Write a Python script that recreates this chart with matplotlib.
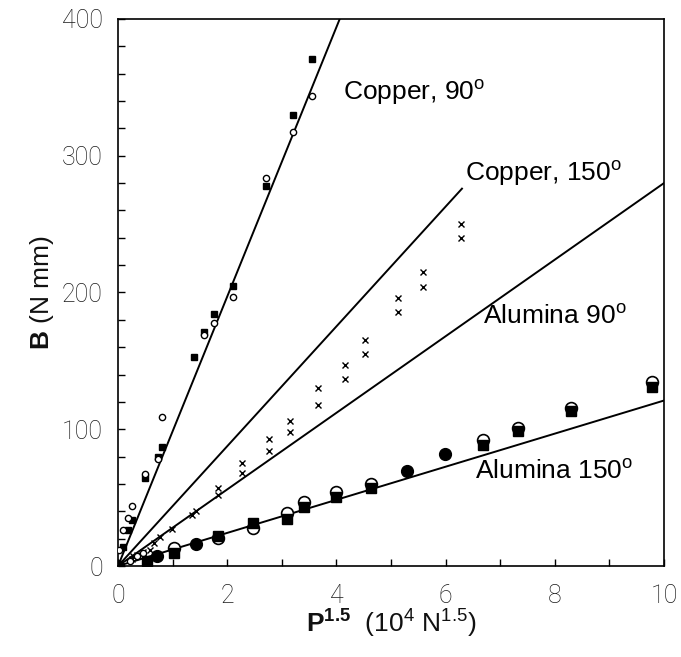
import numpy as np
import matplotlib
matplotlib.use("Agg")
import matplotlib.pyplot as plt
from matplotlib.ticker import MultipleLocator

plt.rcParams['font.family'] = ['Liberation Sans', 'DejaVu Sans']
plt.rcParams['mathtext.fontset'] = 'custom'
plt.rcParams['mathtext.rm'] = 'Liberation Sans'
plt.rcParams['mathtext.bf'] = 'Liberation Sans:bold'
plt.rcParams['mathtext.it'] = 'Liberation Sans:italic'

# ---- Copper 90 deg ----
cu90_sq_x = [0, 0.10, 0.19, 0.25, 0.50, 0.73, 0.80, 1.40, 1.58, 1.75, 2.10, 2.71, 3.21, 3.55]
cu90_sq_y = [0, 14, 26, 34, 64, 80, 87, 153, 171, 184, 205, 278, 330, 371]
cu90_ci_x = [0.01, 0.10, 0.19, 0.25, 0.50, 0.74, 0.80, 1.58, 1.75, 2.10, 2.71, 3.20, 3.55]
cu90_ci_y = [12, 26, 35, 44, 67, 78, 109, 169, 178, 197, 284, 317, 344]

# ---- Copper 150 deg (two runs, crosses) ----
cu150_a_x = [0.28, 0.45, 0.65, 0.98, 1.43, 1.84, 2.28, 2.76, 3.15, 3.67, 4.15, 4.53, 5.12, 5.59, 6.28]
cu150_a_y = [7, 10, 16.6, 27, 40.5, 57, 75, 93, 106, 130, 147, 165, 196, 215, 250]
cu150_b_x = [0.25, 0.34, 0.59, 0.77, 1.35, 1.84, 2.28, 2.76, 3.15, 3.67, 4.15, 4.53, 5.12, 5.59, 6.28]
cu150_b_y = [5, 8, 12, 21, 37, 52, 68, 84, 98, 118, 137, 155, 186, 204, 240]

# ---- Alumina 90 deg (small open circles near origin) ----
al90_x = [0.22, 0.34, 0.46]
al90_y = [4, 7, 9.7]

# ---- Alumina 150 deg ----
al150_ci_x = [1.02, 1.83, 2.47, 3.09, 3.41, 4.00, 4.64, 6.69, 7.32, 8.30, 9.78]
al150_ci_y = [13, 20.5, 27.6, 39, 46.6, 54, 59.6, 92, 101, 115.5, 134.5]
al150_sq_x = [0.53, 1.02, 1.83, 2.47, 3.09, 3.41, 4.00, 4.64, 6.69, 7.32, 8.30, 9.78]
al150_sq_y = [4, 9.3, 22, 31.3, 34.7, 43, 50.5, 57.4, 88.6, 98.6, 113, 131]
al150_fc_x = [0, 0.71, 1.43, 5.29, 5.98]
al150_fc_y = [0, 7.5, 16, 69.4, 81.8]

# ---- fitted lines ----
fit_names = ['Copper, 90', 'Copper, 150', 'Alumina 90', 'Alumina 150']
fit_slopes = [98.5, 43.8, 28.0, 12.1]
fit_xmax = [10.0, 6.30, 10.0, 10.0]
label_x = [4.12, 6.36, 6.69, 6.53]
label_y = [346, 287, 182.5, 69]

xticks = [0, 2, 4, 6, 8, 10]
yticks = [0, 100, 200, 300, 400]

fig = plt.figure(figsize=(6.81, 6.57), dpi=100)
ax = fig.add_axes([0.1733, 0.1385, 0.8017, 0.8326])

for s, xm in zip(fit_slopes, fit_xmax):
    xx = np.array([0.0, xm])
    ax.plot(xx, s * xx, color='black', lw=1.4, zorder=2)

ax.plot(cu90_sq_x, cu90_sq_y, 's', ms=4.5, mfc='black', mec='black', ls='none', zorder=3)
ax.plot(cu90_ci_x, cu90_ci_y, 'o', ms=4.5, mfc='white', mec='black', mew=1.0, ls='none', zorder=3)
ax.plot(cu150_a_x, cu150_a_y, 'x', ms=4, color='black', mew=1.0, ls='none', zorder=3)
ax.plot(cu150_b_x, cu150_b_y, 'x', ms=4, color='black', mew=1.0, ls='none', zorder=3)
ax.plot(al90_x, al90_y, 'o', ms=4.5, mfc='white', mec='black', mew=1.0, ls='none', zorder=3)
ax.plot(al150_ci_x, al150_ci_y, 'o', ms=8.5, mfc='white', mec='black', mew=1.2, ls='none', zorder=3)
ax.plot(al150_sq_x, al150_sq_y, 's', ms=7, mfc='black', mec='black', ls='none', zorder=4)
ax.plot(al150_fc_x, al150_fc_y, 'o', ms=8.5, mfc='black', mec='black', ls='none', zorder=4)

for name, lx, ly in zip(fit_names, label_x, label_y):
    ax.text(lx, ly, name + r'$^{\mathrm{o}}$', fontsize=19, va='center', ha='left',
            color='black', zorder=5)

ax.set_xlim(0, 10)
ax.set_ylim(0, 400)
ax.set_xticks(xticks)
ax.set_yticks(yticks)
ax.xaxis.set_minor_locator(MultipleLocator(1))
ax.yaxis.set_minor_locator(MultipleLocator(20))
ax.tick_params(which='both', direction='in', top=False, right=False, length=5, width=1)
ax.tick_params(axis='x', which='major', labelsize=18, labelcolor='#1a1a1a', pad=13)
ax.tick_params(axis='y', which='major', labelsize=18, labelcolor='#1a1a1a', pad=11)
for lab in ax.get_xticklabels() + ax.get_yticklabels():
    lab.set_family(['Roboto', 'Liberation Sans', 'DejaVu Sans'])
    lab.set_fontweight('light')
for sp in ax.spines.values():
    sp.set_linewidth(1.2)

ax.set_xlabel(r'$\mathbf{P^{1.5}}$  (10$^{4}$ N$^{1.5}$)', fontsize=19, color='#111111', labelpad=0)
ax.set_ylabel(r'$\mathbf{B}$ (N mm)', fontsize=19, color='#111111', labelpad=4)

fig.savefig('out.png', dpi=100)
